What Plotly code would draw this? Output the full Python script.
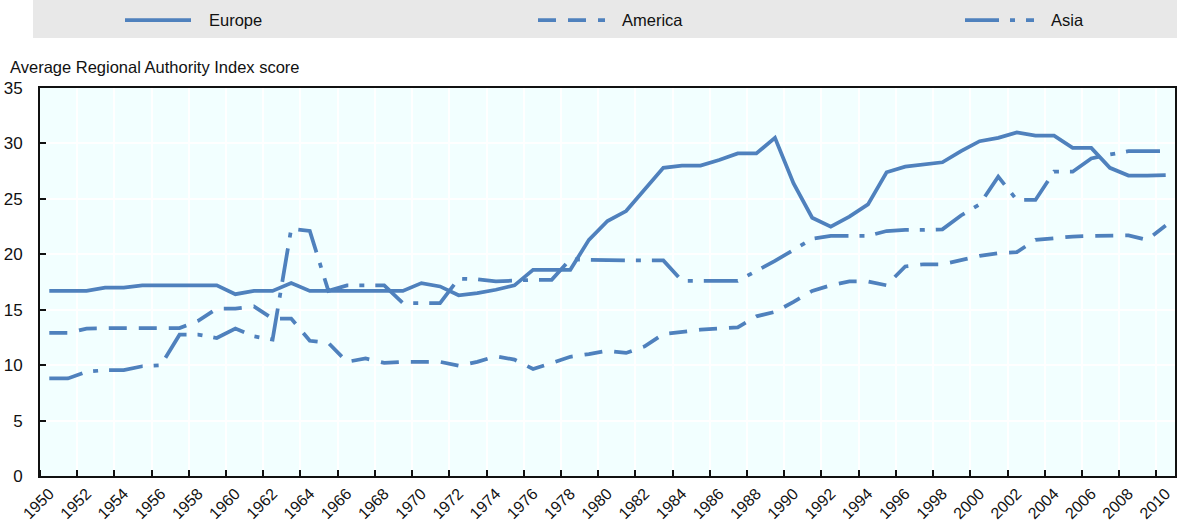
import plotly.graph_objects as go

# ---------------- data ----------------
years = list(range(1950, 2011))

europe = [16.7, 16.7, 16.7, 17.0, 17.0, 17.2, 17.2, 17.2, 17.2, 17.2,
          16.4, 16.7, 16.7, 17.4, 16.7, 16.7, 16.7, 16.7, 16.7, 16.7,
          17.4, 17.1, 16.3, 16.5, 16.8, 17.2, 18.6, 18.6, 18.6, 21.3,
          23.0, 23.9, 25.9, 27.8, 28.0, 28.0, 28.5, 29.1, 29.1, 30.5,
          26.4, 23.3, 22.5, 23.4, 24.5, 27.4, 27.9, 28.1, 28.3, 29.3,
          30.2, 30.5, 31.0, 30.7, 30.7, 29.6, 29.6, 27.8, 27.1, 27.1,
          27.15]

america = [12.9, 12.9, 13.3, 13.35, 13.35, 13.35, 13.35, 13.35, 14.0, 15.1,
           15.1, 15.3, 14.2, 14.2, 12.2, 12.0, 10.3, 10.6, 10.2, 10.3,
           10.3, 10.3, 9.95, 10.3, 10.8, 10.5, 9.65, 10.2, 10.75, 11.0,
           11.3, 11.1, 11.7, 12.8, 13.0, 13.2, 13.3, 13.4, 14.4, 14.8,
           15.7, 16.7, 17.2, 17.55, 17.55, 17.2, 18.9, 19.1, 19.1, 19.5,
           19.85, 20.1, 20.2, 21.3, 21.45, 21.6, 21.65, 21.7, 21.7, 21.3,
           22.6]

asia = [8.8, 8.8, 9.4, 9.55, 9.55, 9.9, 10.0, 12.75, 12.75, 12.45,
        13.3, 12.6, 12.3, 22.3, 22.1, 16.7, 17.2, 17.2, 17.2, 15.6,
        15.6, 15.6, 17.8, 17.75, 17.55, 17.65, 17.7, 17.7, 19.55, 19.5,
        19.45, 19.45, 19.45, 19.45, 17.6, 17.6, 17.6, 17.6, 18.5, 19.4,
        20.4, 21.4, 21.65, 21.65, 21.65, 22.1, 22.2, 22.2, 22.25, 23.5,
        24.5, 27.0, 24.9, 24.9, 27.45, 27.45, 28.65, 29.0, 29.3, 29.3,
        29.3]

series_names = ["Europe", "America", "Asia"]
tick_years = list(range(1950, 2011, 2))
tick_labels = [str(y) for y in tick_years]
y_title = "Average Regional Authority Index score"

# ---------------- styling ----------------
W, H = 1177, 523
ML, MR, MT, MB = 40, 2, 88, 47
PW, PH = W - ML - MR, H - MT - MB

def px_x(x):
    return (x - ML) / PW

def px_y(y):
    return (H - MB - y) / PH

COLOR = "#4F81BD"
LW = 3.75
FONT = "Arial, Liberation Sans, sans-serif"
dashes = {"Europe": "solid", "America": "18px,12px", "Asia": "34px,11px,5px,11px"}
values = {"Europe": europe, "America": america, "Asia": asia}

fig = go.Figure()
for name in series_names:
    fig.add_trace(go.Scatter(
        x=years, y=values[name], mode="lines", name=name, showlegend=False,
        line=dict(color=COLOR, width=LW, dash=dashes[name]),
    ))

# custom legend band (positions in pixels)
shapes = [dict(type="rect", xref="paper", yref="paper",
               x0=px_x(33), x1=px_x(1177), y0=px_y(38), y1=px_y(0),
               fillcolor="#E8E8E8", line=dict(width=0), layer="below")]
annotations = []
legend_pos = {"Europe": (125, 191, 207), "America": (538, 605, 620), "Asia": (965, 1034, 1049)}
for name in series_names:
    a, b, t = legend_pos[name]
    shapes.append(dict(type="line", xref="paper", yref="paper",
                       x0=px_x(a), x1=px_x(b), y0=px_y(20), y1=px_y(20),
                       line=dict(color=COLOR, width=LW, dash=dashes[name])))
    annotations.append(dict(text=name, xref="paper", yref="paper",
                            x=px_x(t), y=px_y(20), xanchor="left", yanchor="middle",
                            showarrow=False, font=dict(family=FONT, size=16.5, color="#111")))

annotations.append(dict(text=y_title, xref="paper", yref="paper",
                        x=px_x(8), y=px_y(67), xanchor="left", yanchor="middle",
                        showarrow=False, font=dict(family=FONT, size=16.5, color="#111")))

fig.update_layout(
    width=W, height=H,
    margin=dict(l=ML, r=MR, t=MT, b=MB, pad=0),
    paper_bgcolor="white",
    plot_bgcolor="#F2FFFF",
    font=dict(family=FONT, size=16, color="#111"),
    shapes=shapes,
    annotations=annotations,
    showlegend=False,
)

fig.update_xaxes(
    range=[1949.5, 2010.5],
    tickmode="array", tickvals=tick_years, ticktext=tick_labels,
    tickangle=-45, ticks="", showgrid=False, zeroline=False,
    tickfont=dict(family=FONT, size=16, color="#111"),
    showline=True, linecolor="#111", linewidth=2, mirror=True,
    automargin=False, ticklabelstandoff=0,
    minor=dict(tickmode="array", tickvals=[y - 0.5 for y in tick_years],
               ticks="inside", ticklen=6, tickwidth=2, tickcolor="#111",
               showgrid=True, gridcolor="white", gridwidth=1.5),
)
fig.update_yaxes(
    range=[0, 35], tickmode="linear", tick0=0, dtick=5,
    ticks="inside", ticklen=6, tickwidth=2, tickcolor="#111",
    showgrid=True, gridcolor="white", gridwidth=1.5, zeroline=False,
    tickfont=dict(family=FONT, size=17, color="#111"),
    showline=True, linecolor="#111", linewidth=2, mirror=True,
    automargin=False, ticklabelstandoff=12,
)

fig.write_html(
    "out.html",
    config={"displayModeBar": False},
    post_script="document.body.style.margin='0';document.body.style.overflow='hidden';",
)
